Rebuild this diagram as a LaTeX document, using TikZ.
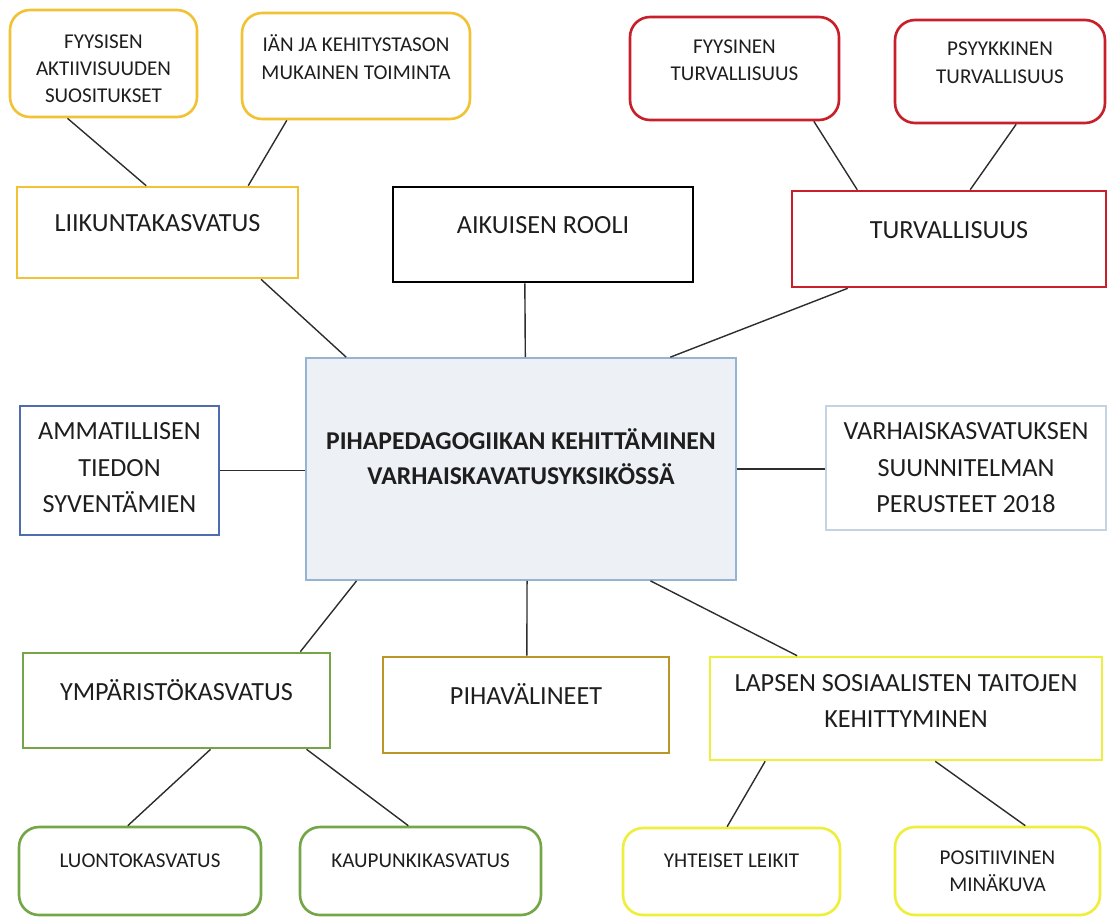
\documentclass[tikz,border=0pt]{standalone}
\usepackage{fontspec}
\setmainfont{Carlito}
\usetikzlibrary{calc}

\definecolor{ink}{RGB}{30,30,30}
\definecolor{linec}{RGB}{45,45,45}
\definecolor{gold}{RGB}{240,194,52}
\definecolor{safered}{RGB}{200,32,42}
\definecolor{hubfill}{RGB}{237,240,244}
\definecolor{hubline}{RGB}{150,180,210}
\definecolor{profblue}{RGB}{78,108,175}
\definecolor{planblue}{RGB}{196,210,226}
\definecolor{envgreen}{RGB}{116,166,72}
\definecolor{olive}{RGB}{186,150,40}
\definecolor{brightyel}{RGB}{238,238,60}

\begin{document}
\begin{tikzpicture}[
  x=0.02cm, y=-0.02cm,
  box/.style={rectangle, draw, line width=1.5pt, align=center, inner sep=2pt, text=ink},
  bigtxt/.style={font=\fontsize{14.9}{20.8}\selectfont},
  smalltxt/.style={font=\fontsize{12}{15.6}\selectfont},
  plain/.style={box, bigtxt},
  soft/.style={box, smalltxt, rounded corners=0.4cm},
  conn/.style={draw=linec, line width=0.8pt}
]
\useasboundingbox (0,0) rectangle (1108,916);

% top row: sub topics
\node[soft, draw=gold, minimum width=3.74cm, minimum height=2.14cm, text height=1.58cm] (fyys) at (103.5,63.5) {FYYSISEN\\AKTIIVISUUDEN\\SUOSITUKSET};
\node[soft, draw=gold, minimum width=4.56cm, minimum height=2.12cm, text depth=0.36cm] (ian) at (356,66) {IÄN JA KEHITYSTASON\\MUKAINEN TOIMINTA};
\node[soft, draw=safered, minimum width=4.18cm, minimum height=2.06cm, text depth=0.34cm] (fyysturv) at (734.5,68.5) {FYYSINEN\\TURVALLISUUS};
\node[soft, draw=safered, minimum width=4.2cm, minimum height=2.06cm, text depth=0.36cm] (psyyk) at (1000,71.5) {PSYYKKINEN\\TURVALLISUUS};

% main topics
\node[plain, draw=gold, minimum width=5.62cm, minimum height=1.82cm, text depth=0.38cm] (liik) at (157.5,232.5) {LIIKUNTAKASVATUS};
\node[plain, draw=black, minimum width=6cm, minimum height=1.9cm, text depth=0.38cm] (aik) at (543,234.5) {AIKUISEN ROOLI};
\node[plain, draw=safered, minimum width=6.28cm, minimum height=1.92cm, text depth=0.36cm] (turv) at (949,239) {TURVALLISUUS};

\node[box, draw=hubline, line width=1pt, fill=hubfill, minimum width=8.6cm, minimum height=4.44cm, text depth=0.5cm,
  font=\bfseries\fontsize{14.6}{20}\selectfont] (hub) at (521,469) {PIHAPEDAGOGIIKAN KEHITTÄMINEN\\VARHAISKAVATUSYKSIKÖSSÄ};
\node[plain, draw=profblue, minimum width=3.98cm, minimum height=2.58cm, text depth=0.12cm] (amm) at (119.5,470.5) {AMMATILLISEN\\TIEDON\\SYVENTÄMIEN};
\node[plain, draw=planblue, minimum width=5.6cm, minimum height=2.48cm] (varh) at (966,468) {VARHAISKASVATUKSEN\\SUUNNITELMAN\\PERUSTEET 2018};

\node[plain, draw=envgreen, minimum width=6.14cm, minimum height=1.9cm, text depth=0.42cm] (ymp) at (176.5,700.5) {YMPÄRISTÖKASVATUS};
\node[plain, draw=olive, minimum width=5.72cm, minimum height=1.92cm, text depth=0.46cm] (piha) at (526,705) {PIHAVÄLINEET};
\node[plain, draw=brightyel, minimum width=7.84cm, minimum height=2.06cm, text depth=0.3cm] (lapsen) at (906,708.5) {LAPSEN SOSIAALISTEN TAITOJEN\\KEHITTYMINEN};

% bottom row
\node[soft, draw=envgreen, minimum width=4.84cm, minimum height=1.76cm, text depth=0.4cm] (luonto) at (140,871) {LUONTOKASVATUS};
\node[soft, draw=envgreen, minimum width=4.82cm, minimum height=1.76cm, text depth=0.4cm] (kaup) at (420.5,871) {KAUPUNKIKASVATUS};
\node[soft, draw=brightyel, minimum width=4.34cm, minimum height=1.74cm, text depth=0.42cm] (yht) at (731.5,871.5) {YHTEISET LEIKIT};
\node[soft, draw=brightyel, minimum width=4.1cm, minimum height=1.76cm] (pos) at (997.5,871) {POSITIIVINEN\\MINÄKUVA};

% connectors
\draw[conn] ($(fyys.south west)!0.31!(fyys.south east)$) -- ($(liik.north west)!0.46!(liik.north east)$);
\draw[conn] ($(ian.south west)!0.2!(ian.south east)$) -- ($(liik.north west)!0.82!(liik.north east)$);
\draw[conn] ($(fyysturv.south west)!0.875!(fyysturv.south east)$) -- ($(turv.north west)!0.21!(turv.north east)$);
\draw[conn] ($(psyyk.south west)!0.576!(psyyk.south east)$) -- ($(turv.north west)!0.567!(turv.north east)$);
\draw[conn] ($(liik.south west)!0.865!(liik.south east)$) -- ($(hub.north west)!0.095!(hub.north east)$);
\draw[conn] ($(aik.south west)!0.44!(aik.south east)$) -- ($(hub.north west)!0.51!(hub.north east)$);
\draw[conn] ($(turv.south west)!0.18!(turv.south east)$) -- ($(hub.north west)!0.846!(hub.north east)$);
\draw[conn] (amm.east) -- (amm.east -| hub.west);
\draw[conn] (hub.east) -- (hub.east -| varh.west);
\draw[conn] ($(hub.south west)!0.119!(hub.south east)$) -- ($(ymp.north west)!0.9!(ymp.north east)$);
\draw[conn] ($(hub.south west)!0.514!(hub.south east)$) -- ($(piha.north west)!0.503!(piha.north east)$);
\draw[conn] ($(hub.south west)!0.8!(hub.south east)$) -- ($(lapsen.north west)!0.224!(lapsen.north east)$);
\draw[conn] ($(ymp.south west)!0.61!(ymp.south east)$) -- ($(luonto.north west)!0.45!(luonto.north east)$);
\draw[conn] ($(ymp.south west)!0.92!(ymp.south east)$) -- ($(kaup.north west)!0.45!(kaup.north east)$);
\draw[conn] ($(lapsen.south west)!0.143!(lapsen.south east)$) -- ($(yht.north west)!0.48!(yht.north east)$);
\draw[conn] ($(lapsen.south west)!0.574!(lapsen.south east)$) -- ($(pos.north west)!0.634!(pos.north east)$);
\end{tikzpicture}
\end{document}
